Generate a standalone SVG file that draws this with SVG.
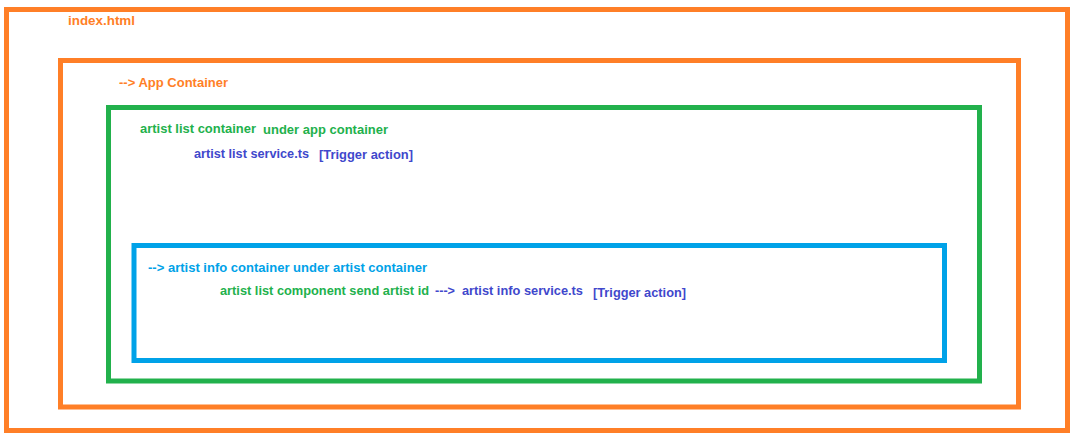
<svg xmlns="http://www.w3.org/2000/svg" width="1075" height="441" viewBox="0 0 1075 441">
<style>
rect.box{fill:none;stroke-width:5}
.o{stroke:#FF7F27}.g{stroke:#22B14C}.b{stroke:#00A2E8}
text{font-family:"Liberation Sans",Arial,sans-serif;font-size:13.5px;font-weight:bold}
.to{fill:#FF7F27}.tg{fill:#22B14C}.tb{fill:#00A2E8}.ti{fill:#3F48CC}
</style>
<rect width="1075" height="441" fill="#ffffff"/>
<g id="index-html">
<rect class="box o" x="6.5" y="9.5" width="1061" height="421"/>
<text class="to" x="68" y="25" textLength="67" lengthAdjust="spacingAndGlyphs">index.html</text>
</g>
<g id="app-container">
<rect class="box o" x="60.5" y="60.5" width="958" height="346.5"/>
<text class="to" x="119" y="87" textLength="109" lengthAdjust="spacingAndGlyphs">--&gt; App Container</text>
</g>
<g id="artist-list-container">
<rect class="box g" x="108.5" y="107.5" width="871" height="273.5"/>
<text class="tg" x="140" y="133" textLength="116" lengthAdjust="spacingAndGlyphs">artist list container</text>
<text class="tg" x="263" y="134" textLength="125" lengthAdjust="spacingAndGlyphs">under app container</text>
<text class="ti" x="194" y="158" textLength="115" lengthAdjust="spacingAndGlyphs">artist list service.ts</text>
<text class="ti" x="319" y="159" textLength="94" lengthAdjust="spacingAndGlyphs">[Trigger action]</text>
</g>
<g id="artist-info-container">
<rect class="box b" x="134" y="245.5" width="810.5" height="115"/>
<text class="tb" x="148" y="272" textLength="279" lengthAdjust="spacingAndGlyphs">--&gt; artist info container under artist container</text>
<text class="tg" x="220" y="295" style="font-size:12.7px" textLength="209" lengthAdjust="spacingAndGlyphs">artist list component send artist id</text>
<text class="ti" x="435" y="295" textLength="20" lengthAdjust="spacingAndGlyphs">---&gt;</text>
<text class="ti" x="462" y="295" textLength="121" lengthAdjust="spacingAndGlyphs">artist info service.ts</text>
<text class="ti" x="593" y="297" textLength="93" lengthAdjust="spacingAndGlyphs">[Trigger action]</text>
</g>
<g id="connectors"/>
</svg>
